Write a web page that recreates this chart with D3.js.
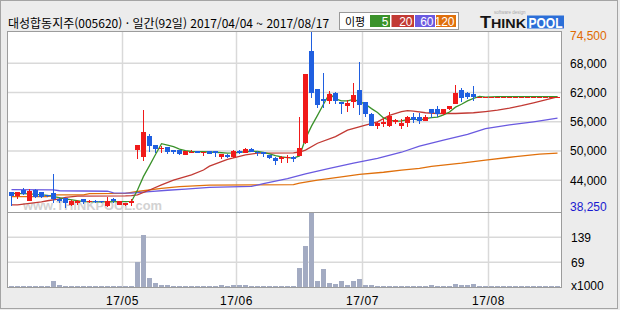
<!DOCTYPE html>
<html lang="ko">
<head>
<meta charset="UTF-8" />
<title>대성합동지주 일간 차트</title>
<script src="https://cdn.jsdelivr.net/npm/d3@7"></script>
<style>
body{margin:0;background:#ececec}
svg{display:block}
text{font-family:"Liberation Sans",Arial,sans-serif}
</style>
</head>
<body>
<svg id="chart" width="620" height="310"></svg>
<script>
/* ===== data ===== */
const stockName='대성합동지주',stockCode='005620';
const dates=[
 '2017/04/04','2017/04/05','2017/04/06','2017/04/07','2017/04/10','2017/04/11','2017/04/12','2017/04/13','2017/04/14','2017/04/17',
 '2017/04/18','2017/04/19','2017/04/20','2017/04/21','2017/04/24','2017/04/25','2017/04/26','2017/04/27','2017/04/28',
 '2017/05/02','2017/05/04','2017/05/08','2017/05/10','2017/05/11','2017/05/12','2017/05/15','2017/05/16','2017/05/17','2017/05/18',
 '2017/05/19','2017/05/22','2017/05/23','2017/05/24','2017/05/25','2017/05/26','2017/05/29','2017/05/30','2017/05/31',
 '2017/06/01','2017/06/02','2017/06/05','2017/06/07','2017/06/08','2017/06/09','2017/06/12','2017/06/13','2017/06/14','2017/06/15',
 '2017/06/16','2017/06/19','2017/06/20','2017/06/21','2017/06/22','2017/06/23','2017/06/26','2017/06/27','2017/06/28','2017/06/29','2017/06/30',
 '2017/07/03','2017/07/04','2017/07/05','2017/07/06','2017/07/07','2017/07/10','2017/07/11','2017/07/12','2017/07/13','2017/07/14',
 '2017/07/17','2017/07/18','2017/07/19','2017/07/20','2017/07/21','2017/07/24','2017/07/25','2017/07/26','2017/07/27','2017/07/28','2017/07/31',
 '2017/08/01','2017/08/02','2017/08/03','2017/08/04','2017/08/07','2017/08/08','2017/08/09','2017/08/10','2017/08/11','2017/08/14',
 '2017/08/16','2017/08/17'];
const opens=[
 41550,40850,42050,39850,42050,41550,40900,41350,40150,40300,
 38900,39350,40100,39500,39800,39700,38800,40150,39000,38900,
 39350,50200,48700,53100,51250,50400,50850,50150,50200,49250,
 49550,50000,49650,50000,50000,48800,49250,48750,50000,49650,
 50500,49850,49750,49200,48650,48450,48550,48850,49000,51700,
 70500,62750,60650,60250,61950,60050,59250,60100,62500,60050,
 57600,55200,55550,55150,56050,55200,55700,56900,56900,56200,
 58550,58550,57600,58550,59650,62500,61850,61700,61150,61150,
 61150,61150,61150,61150,61150,61150,61150,61150,61150,61150,
 61150,61150];
const highs=[
 41650,41600,42350,42150,42200,41650,41000,45300,40300,40400,
 40000,40000,40200,39900,39900,39850,40600,40300,39800,39400,
 40100,51250,58400,53500,51300,51100,50900,50250,50300,50100,
 50200,50050,49900,50050,50050,49400,49350,50200,50250,50700,
 50600,49950,49850,49250,48700,48900,49200,48950,57050,65900,
 74500,62750,66050,62400,62050,60150,60450,64000,68250,60100,
 57700,55900,56800,58000,56500,56550,57100,57750,57850,57400,
 58600,59250,58700,59300,63550,62850,62200,63350,61150,61150,
 61150,61150,61150,61150,61150,61150,61150,61150,61150,61150,
 61150,61150];
const lows=[
 38800,40100,41000,39850,40300,40300,40500,39300,39400,38250,
 38700,39000,39200,39300,39400,39300,38450,39400,38900,38800,
 38800,48300,48050,49850,49600,49550,49300,49350,49100,49150,
 49500,49500,49000,49300,48850,48300,48550,48600,49450,49550,
 49750,49000,48850,48400,47150,47600,47600,47700,48900,51500,
 60800,58750,58850,59650,59650,57650,58050,58850,57400,56900,
 55050,54450,54900,54850,55500,54450,55000,55700,55500,56100,
 56700,56900,57400,58500,59550,60100,60600,60350,61150,61150,
 61150,61150,61150,61150,61150,61150,61150,61150,61150,61150,
 61150,61150];
const closes=[
 40850,41550,41150,41850,40650,40650,40700,40100,39700,39300,
 39800,39750,39500,39700,39500,39500,39700,39800,39750,39300,
 39700,51250,53900,51050,50400,50700,49850,49750,49350,50000,
 49850,49650,49850,49400,49550,49350,48800,50050,49550,50500,
 49850,49550,49350,48550,48000,48850,48850,48450,50700,65900,
 61850,59450,60250,61700,60350,59600,59800,61500,59450,57550,
 55150,55800,56000,57200,56350,55700,57050,56350,56200,56900,
 57750,57600,58550,59250,61850,60800,61050,61150,61150,61150,
 61150,61150,61150,61150,61150,61150,61150,61150,61150,61150,
 61150,61150];
/* volume, thousands of shares */
const volumes=[
 3,2,3,3,2,2,2,17,5,2,
 2,2,2,1,1,2,2,1,2,1,
 2,70,146,26,12,6,6,2,2,2,
 2,1,2,2,2,5,2,5,5,6,
 2,2,1,2,2,2,2,2,53,115,
 206,17,50,11,9,16,6,16,22,6,
 5,3,2,2,2,2,2,2,2,2,
 5,2,2,2,7,5,5,7,0,0,
 0,0,0,0,0,0,0,0,0,0,
 0,0];
/* moving averages as [day index, price] readings */
const ma5=[[0,41300],[3,41200],[6,40900],[9,40200],[12,39600],[15,39550],[18,39600],[20,39650],[21,42000],[22,44800],
 [23,47000],[24,49300],[25,51500],[26,51200],[27,50900],[28,50400],[29,50100],[30,49900],[32,49850],[34,49750],[36,49550],
 [37,49600],[39,49850],[40,49950],[41,49900],[42,49700],[43,49400],[44,49050],[45,48800],[46,48650],[47,48550],[48,49000],
 [49,52500],[50,55100],[51,57300],[52,59600],[53,61800],[54,60700],[55,60300],[56,60300],[57,60600],[58,60150],[59,59600],
 [60,58700],[61,57900],[62,56800],[63,56350],[64,56100],[65,56200],[66,56450],[67,56550],[68,56350],[69,56650],[70,56850],
 [71,56950],[72,57400],[73,58000],[74,59000],[75,59600],[76,60300],[77,60800],[78,61200],[79,61050],[80,61100],[81,61150],[91,61150]];
const ma20=[[0,38950],[1,38950],[3,39250],[5,39550],[6,39800],[8,40200],[9,40500],[11,40750],[19,40800],[20,40850],[21,41000],
 [23,42000],[25,43050],[27,44050],[30,45100],[32,46100],[33,46900],[36,48300],[39,49200],[41,49550],[47,49600],[48,49800],
 [49,50200],[51,51600],[54,52950],[56,54300],[59,55300],[61,56000],[63,57300],[65,58100],[66,58300],[67,58200],[69,57850],
 [71,57700],[74,57700],[77,57850],[79,58100],[81,58400],[83,58800],[85,59300],[87,59900],[89,60500],[91,61100]];
const ma60=[[0,42100],[7,42050],[8,41850],[16,41750],[17,41400],[20,41350],[23,41650],[26,41950],[29,42200],[33,42550],
 [40,42750],[42,43300],[46,44350],[49,45300],[53,46450],[57,47500],[61,48500],[65,49750],[68,51000],[72,52250],[76,53400],
 [79,54600],[83,55350],[87,56000],[91,56750]];
const ma120=[[0,40650],[6,40650],[7,41000],[12,41000],[13,41250],[19,41300],[21,41700],[25,42350],[28,42700],[33,43000],
 [47,43100],[48,43400],[51,44050],[55,44700],[58,45200],[62,45650],[65,46100],[68,46450],[70,46850],[75,47500],[79,48150],
 [84,48850],[88,49350],[91,49550]];
const maNames=['5','20','60','120'];
const maSeries=[ma5,ma20,ma60,ma120];
const maColors=['#3b922b','#c23a34','#6a5ae0','#e0700c'];
const priceTicks=[44000,50000,56000,62000,68000];
const priceMax=74500,priceMin=38250;
const volTicks=[69,139],volMax=208.5;

/* ===== drawing ===== */
const svg=d3.select('#chart');
const P={l:8,r:561.5,t:31.5,mid:212.5,b:287.5};
const x=d3.scaleBand().domain(d3.range(dates.length)).range([8.5,560.5]).paddingInner(1/6).paddingOuter(1/12);
const cx=i=>x(i)+x.bandwidth()/2;
const y=d3.scaleLinear().domain([priceMin,priceMax]).range([208.3,31.6]);
const yv=d3.scaleLinear().domain([0,volMax]).range([286.9,212.4]);

svg.append('rect').attr('x',0.5).attr('y',0.5).attr('width',617).attr('height',308)
  .attr('fill','#ececec').attr('stroke','#a4a4a4');
svg.append('rect').attr('x',P.l).attr('y',P.t).attr('width',P.r-P.l).attr('height',P.b-P.t).attr('fill','#fff');

const defs=svg.append('defs');
defs.append('clipPath').attr('id','pclip').append('rect')
  .attr('x',P.l).attr('y',P.t).attr('width',P.r-P.l).attr('height',P.mid-P.t);

/* grid */
const grid=svg.append('g').attr('stroke','#d9d9d9').attr('stroke-width',1.5);
grid.selectAll('.hp').data(priceTicks).join('line')
  .attr('x1',P.l).attr('x2',P.r).attr('y1',d=>y(d)).attr('y2',d=>y(d));
grid.selectAll('.hv').data(volTicks).join('line')
  .attr('x1',P.l).attr('x2',P.r).attr('y1',d=>yv(d)).attr('y2',d=>yv(d));
const monthIdx=d3.range(1,dates.length).filter(i=>dates[i].slice(0,7)!==dates[i-1].slice(0,7));
const mx=i=>x(i)-0.5;
grid.selectAll('.vm').data(monthIdx).join('line')
  .attr('x1',mx).attr('x2',mx).attr('y1',P.t).attr('y2',P.b);

/* watermark */
svg.append('text').attr('x',23).attr('y',209.5).attr('font-size',12.5).attr('font-weight','bold')
  .attr('fill','#d2d2d2').attr('textLength',139).attr('lengthAdjust','spacingAndGlyphs').text('www.THINKPOOL.com');

/* moving averages */
const pg=svg.append('g').attr('clip-path','url(#pclip)');
const line=d3.line().x(d=>cx(d[0])).y(d=>y(d[1]));
[3,2,1,0].forEach(k=>{
  pg.append('path').datum(maSeries[k]).attr('fill','none').attr('stroke',maColors[k])
    .attr('stroke-width',1.3).attr('d',line);
});

/* candles */
const days=d3.range(dates.length);
const col=i=>closes[i]>=opens[i]?'#f01a1a':'#1f5fe0';
const cg=pg.append('g').attr('shape-rendering','crispEdges');
cg.selectAll('.w').data(days).join('line')
  .attr('x1',cx).attr('x2',cx).attr('y1',i=>y(highs[i])).attr('y2',i=>y(lows[i]))
  .attr('stroke',col).attr('stroke-width',1);
cg.selectAll('.b').data(days).join('rect')
  .attr('x',i=>x(i)).attr('width',x.bandwidth())
  .attr('y',i=>y(Math.max(opens[i],closes[i])))
  .attr('height',i=>Math.max(1,Math.abs(y(opens[i])-y(closes[i]))))
  .attr('fill',col);

/* volume */
svg.append('g').attr('shape-rendering','crispEdges').selectAll('rect').data(days).join('rect')
  .attr('x',i=>x(i)).attr('width',x.bandwidth())
  .attr('y',i=>Math.min(yv(volumes[i]),yv(0)-1)).attr('height',i=>Math.max(1,yv(0)-yv(volumes[i])))
  .attr('fill','#a3abc2');

/* frame */
const fr=svg.append('g').attr('stroke','#9c9c9c').attr('fill','none').attr('shape-rendering','crispEdges');
fr.append('rect').attr('x',7.5).attr('y',P.t).attr('width',P.r-7.5).attr('height',P.b-P.t);
fr.append('line').attr('x1',7.5).attr('x2',P.r).attr('y1',P.mid).attr('y2',P.mid);

/* right axis labels */
const ax=svg.append('g').attr('font-size',12);
ax.selectAll('.pl').data(priceTicks).join('text').attr('x',570).attr('y',d=>y(d)).attr('dy','0.36em')
  .attr('fill','#000').text(d3.format(','));
ax.append('text').attr('x',570).attr('y',Math.max(36,y(priceMax))).attr('dy','0.36em').attr('fill','#e06a00').text(d3.format(',')(priceMax));
ax.append('text').attr('x',570).attr('y',Math.min(207,y(priceMin))).attr('dy','0.36em').attr('fill','#1a1ad0').text(d3.format(',')(priceMin));
ax.selectAll('.vl').data(volTicks).join('text').attr('x',571).attr('y',d=>yv(d)).attr('dy','0.36em').text(d=>d);
ax.append('text').attr('x',571).attr('y',285.5).attr('dy','0.36em').text('x1000');

/* month labels */
ax.selectAll('.ml').data(monthIdx).join('text').attr('x',mx).attr('y',300.5).attr('dy','0.36em')
  .attr('text-anchor','middle').attr('letter-spacing',0.6).text(i=>dates[i].slice(2,7));

/* title */
svg.append('text').attr('x',8).attr('y',27.5).attr('font-size',12)
  .style('font-family','"Noto Sans CJK KR",sans-serif')
  .text(`${stockName}(${stockCode}) · 일간(${dates.length}일) ${dates[0]} ~ ${dates[dates.length-1]}`);

/* MA legend */
const lg=svg.append('g');
lg.append('rect').attr('x',339.5).attr('y',12.5).attr('width',119).attr('height',17).attr('fill','#fff').attr('stroke','#999');
lg.append('text').attr('x',345).attr('y',25.5).attr('font-size',11).style('font-family','"Noto Sans CJK KR",sans-serif').text('이평');
const lgX=[370,391.5,415,436],lgW=[20,22.5,20,20];
maNames.forEach((n,k)=>{
  lg.append('rect').attr('x',lgX[k]).attr('y',15).attr('width',lgW[k]).attr('height',12).attr('fill',maColors[k]);
  lg.append('text').attr('x',lgX[k]+lgW[k]-1.5).attr('y',25.5).attr('font-size',12).attr('text-anchor','end')
    .attr('fill','#fff').text(n);
});

/* logo */
const lo=svg.append('g').attr('font-weight','bold');
lo.append('text').attr('x',494).attr('y',14).attr('font-size',4.5).attr('font-weight','normal').attr('fill','#aaa').text('software design');
const th=lo.append('text').attr('x',480).attr('y',28).attr('fill','#151515').attr('textLength',46).attr('lengthAdjust','spacingAndGlyphs');
th.append('tspan').attr('font-size',17).text('T');
th.append('tspan').attr('font-size',13.5).text('HINK');
lo.append('rect').attr('x',527).attr('y',15.5).attr('width',37).attr('height',13).attr('fill','#2c6fd8');
lo.append('text').attr('x',528.5).attr('y',27.5).attr('font-size',14).attr('fill','#fff')
  .attr('textLength',34).attr('lengthAdjust','spacingAndGlyphs').text('POOL');
</script>
</body>
</html>
